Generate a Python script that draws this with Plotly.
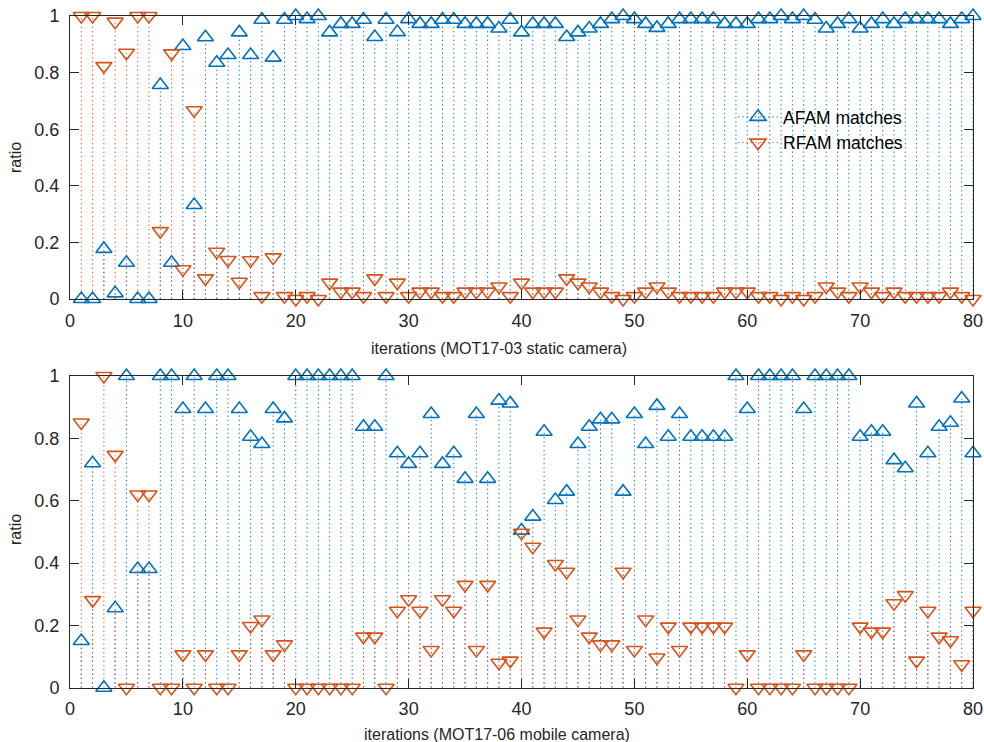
import plotly.graph_objects as go

iters = list(range(1, 81))

afam_03 = [0, 0, 0.177, 0.02, 0.128, 0, 0, 0.756, 0.128, 0.894,
           0.332, 0.925, 0.835, 0.862, 0.942, 0.862, 0.987, 0.853, 0.987, 1.0,
           0.989, 1.0, 0.942, 0.972, 0.972, 0.987, 0.926, 0.987, 0.943, 0.989,
           0.972, 0.972, 0.987, 0.987, 0.972, 0.972, 0.972, 0.956, 0.987, 0.942,
           0.972, 0.972, 0.972, 0.926, 0.942, 0.956, 0.972, 0.989, 1.0, 0.989,
           0.972, 0.958, 0.972, 0.989, 0.989, 0.989, 0.989, 0.972, 0.972, 0.972,
           0.989, 0.989, 1.0, 0.989, 1.0, 0.987, 0.956, 0.972, 0.989, 0.956,
           0.972, 0.989, 0.972, 0.989, 0.989, 0.989, 0.989, 0.972, 0.989, 1.0]

rfam_03 = [1.0, 1.0, 0.823, 0.98, 0.87, 1.0, 1.0, 0.24, 0.868, 0.105,
           0.667, 0.073, 0.167, 0.138, 0.061, 0.137, 0.01, 0.147, 0.01, 0,
           0.01, 0, 0.058, 0.026, 0.026, 0.01, 0.073, 0.01, 0.058, 0.01,
           0.026, 0.026, 0.01, 0.01, 0.026, 0.026, 0.026, 0.044, 0.01, 0.058,
           0.026, 0.026, 0.026, 0.073, 0.058, 0.044, 0.026, 0.01, 0, 0.01,
           0.026, 0.044, 0.026, 0.01, 0.01, 0.01, 0.01, 0.026, 0.026, 0.026,
           0.01, 0.01, 0, 0.01, 0, 0.01, 0.044, 0.026, 0.01, 0.044,
           0.026, 0.01, 0.026, 0.01, 0.01, 0.01, 0.01, 0.026, 0.01, 0]

afam_06 = [0.15, 0.72, 0, 0.255, 1, 0.381, 0.381, 1, 1, 0.894,
           1, 0.894, 1, 1, 0.894, 0.805, 0.782, 0.894, 0.864, 1,
           1, 1, 1, 1, 1, 0.837, 0.837, 1, 0.752, 0.718,
           0.752, 0.878, 0.718, 0.752, 0.67, 0.878, 0.67, 0.921, 0.912, 0.504,
           0.549, 0.821, 0.602, 0.629, 0.782, 0.837, 0.861, 0.861, 0.629, 0.878,
           0.782, 0.904, 0.805, 0.878, 0.805, 0.805, 0.805, 0.805, 1, 0.894,
           1, 1, 1, 1, 0.894, 1, 1, 1, 1, 0.805,
           0.821, 0.821, 0.73, 0.704, 0.912, 0.752, 0.837, 0.85, 0.928, 0.752]

rfam_06 = [0.851, 0.281, 1.0, 0.747, 0, 0.62, 0.62, 0, 0, 0.107,
           0, 0.107, 0, 0, 0.107, 0.198, 0.219, 0.107, 0.139, 0,
           0, 0, 0, 0, 0, 0.164, 0.164, 0, 0.247, 0.284,
           0.247, 0.121, 0.284, 0.247, 0.33, 0.121, 0.33, 0.08, 0.087, 0.497,
           0.452, 0.18, 0.397, 0.372, 0.219, 0.164, 0.139, 0.139, 0.372, 0.121,
           0.219, 0.097, 0.196, 0.121, 0.196, 0.196, 0.196, 0.196, 0, 0.107,
           0, 0, 0, 0, 0.107, 0, 0, 0, 0, 0.196,
           0.18, 0.18, 0.271, 0.297, 0.087, 0.247, 0.164, 0.152, 0.075, 0.247]

x_ticks = [0, 10, 20, 30, 40, 50, 60, 70, 80]
y_ticks = [0, 0.2, 0.4, 0.6, 0.8, 1]
x_label_top = "iterations (MOT17-03 static camera)"
x_label_bottom = "iterations (MOT17-06 mobile camera)"
y_label = "ratio"
legend_names = ["AFAM matches", "RFAM matches"]

BLUE = "#0072BD"
ORANGE = "#D95319"
FONT = "Liberation Sans, Arial, Helvetica, sans-serif"
STEM_DASH = "1.3px,3px"

W, H = 984, 742
ML, MR, MT, MB = 70, 11, 16, 54
PW, PH = W - ML - MR, H - MT - MB


def px2x(px):
    return (px - ML) / PW


def px2y(py):
    return (H - MB - py) / PH


def stems(xs, ys):
    sx, sy = [], []
    for a, b in zip(xs, ys):
        sx += [a, a, None]
        sy += [0, b, None]
    return sx, sy


fig = go.Figure()

panels = [("x", "y", afam_03, rfam_03), ("x2", "y2", afam_06, rfam_06)]
for xa, ya, af, rf in panels:
    for vals, col in [(af, BLUE), (rf, ORANGE)]:
        sx, sy = stems(iters, vals)
        fig.add_trace(go.Scatter(x=sx, y=sy, mode="lines", xaxis=xa, yaxis=ya,
                                 line=dict(color=col, width=1, dash=STEM_DASH),
                                 showlegend=False, hoverinfo="skip"))
    for vals, col, sym in [(af, BLUE, "triangle-up-open"), (rf, ORANGE, "triangle-down-open")]:
        fig.add_trace(go.Scatter(x=iters, y=vals, mode="markers", xaxis=xa, yaxis=ya,
                                 marker=dict(symbol=sym, size=14, color=col,
                                             line=dict(width=1.6, color=col)),
                                 cliponaxis=False, showlegend=False))

# legend entries
for name, col, sym in [(legend_names[0], BLUE, "triangle-up-open"),
                       (legend_names[1], ORANGE, "triangle-down-open")]:
    fig.add_trace(go.Scatter(x=[None], y=[None], mode="lines+markers", name=name,
                             line=dict(color=col, width=1, dash=STEM_DASH),
                             marker=dict(symbol=sym, size=14, color=col,
                                         line=dict(width=1.6, color=col)),
                             xaxis="x", yaxis="y"))

axis_common = dict(showgrid=False, zeroline=False, showline=True, mirror="ticks",
                   linecolor="#262626", linewidth=1, ticks="inside", ticklen=9,
                   tickcolor="#262626", automargin=False,
                   tickfont=dict(family=FONT, size=18, color="#262626"))

top_dom = [px2y(299), px2y(16)]
bot_dom = [px2y(687.7), px2y(376)]

fig.update_layout(
    width=W, height=H,
    margin=dict(l=ML, r=MR, t=MT, b=MB, autoexpand=False),
    paper_bgcolor="white", plot_bgcolor="white",
    font=dict(family=FONT, color="#262626"),
    xaxis=dict(domain=[0, 1], anchor="y", range=[0, 80], tickvals=x_ticks,
               ticklabelstandoff=5, **axis_common),
    yaxis=dict(domain=top_dom, anchor="x", range=[0, 1], tickvals=y_ticks,
               ticklabelstandoff=6, **axis_common),
    xaxis2=dict(domain=[0, 1], anchor="y2", range=[0, 80], tickvals=x_ticks,
                ticklabelstandoff=5, **axis_common),
    yaxis2=dict(domain=bot_dom, anchor="x2", range=[0, 1], tickvals=y_ticks,
                ticklabelstandoff=6, **axis_common),
    legend=dict(x=px2x(733), y=px2y(99), xanchor="left", yanchor="top",
                bgcolor="rgba(0,0,0,0)", borderwidth=0,
                font=dict(family=FONT, size=17.5, color="#000000"),
                tracegroupgap=0, itemwidth=40),
    showlegend=True,
    annotations=[
        dict(text=x_label_top, xref="paper", yref="paper", x=px2x(499), y=px2y(348),
             showarrow=False, xanchor="center", yanchor="middle",
             font=dict(family=FONT, size=16, color="#262626")),
        dict(text=x_label_bottom, xref="paper", yref="paper", x=px2x(497), y=px2y(734),
             showarrow=False, xanchor="center", yanchor="middle",
             font=dict(family=FONT, size=16, color="#262626")),
        dict(text=y_label, xref="paper", yref="paper", x=px2x(15), y=px2y(158),
             showarrow=False, textangle=-90, xanchor="center", yanchor="middle",
             font=dict(family=FONT, size=16, color="#262626")),
        dict(text=y_label, xref="paper", yref="paper", x=px2x(15), y=px2y(530),
             showarrow=False, textangle=-90, xanchor="center", yanchor="middle",
             font=dict(family=FONT, size=16, color="#262626")),
    ],
)

fig.write_html("out.html", config={"displayModeBar": False},
               post_script="document.body.style.margin='0px';document.body.style.overflow='hidden';")
